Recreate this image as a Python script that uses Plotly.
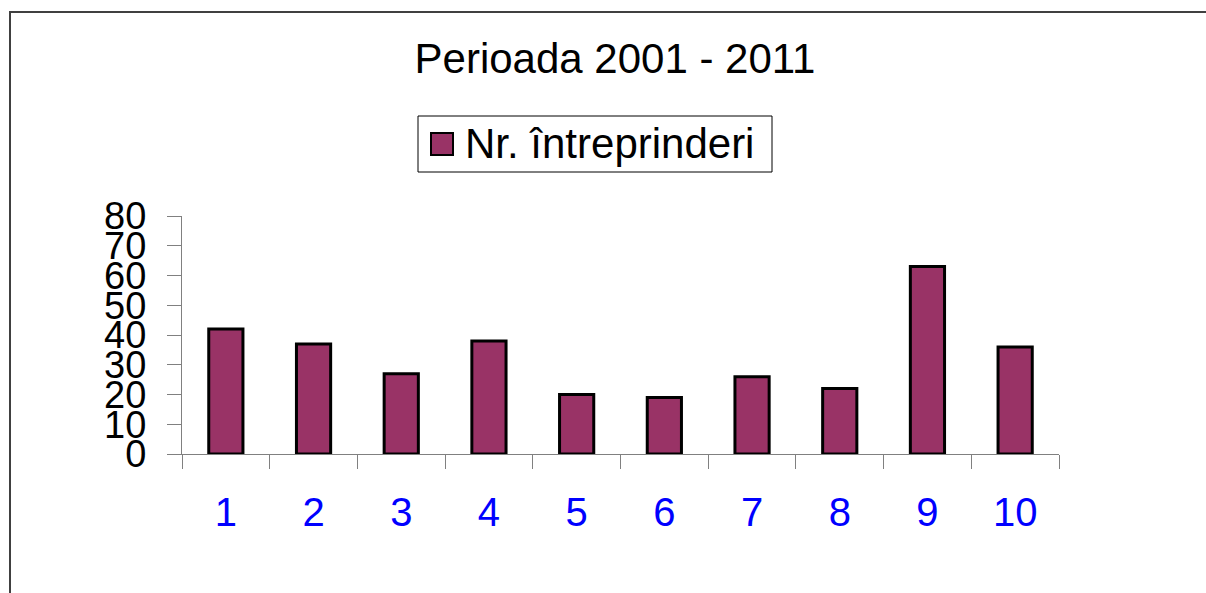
import plotly.graph_objects as go

categories = ["1", "2", "3", "4", "5", "6", "7", "8", "9", "10"]
values = [42, 37, 27, 38, 20, 19, 26, 22, 63, 36]
series_name = "Nr. întreprinderi"
title_text = "Perioada 2001 - 2011"
y_ticks = [0, 10, 20, 30, 40, 50, 60, 70, 80]
bar_color = "#993366"

W, H = 1206, 593
L, R, T, B = 182, 1059, 216, 454          # plot area in screen px
pw, ph = R - L, B - T

def px(x):
    return (x - L) / pw

def py(y):
    return (B - y) / ph

font = "Liberation Sans, Arial, sans-serif"

fig = go.Figure()
fig.add_trace(go.Bar(
    x=categories, y=values, name=series_name,
    marker=dict(color=bar_color, line=dict(color="black", width=3)),
    width=0.39, showlegend=False,
))

border = dict(color="#404040", width=2)
fig.update_layout(
    width=W, height=H,
    margin=dict(l=L, r=W - R, t=T, b=H - B, pad=0),
    paper_bgcolor="white", plot_bgcolor="white",
    title=dict(text=title_text, x=615 / W, xanchor="center",
               y=1 - 58 / H, yanchor="middle",
               font=dict(family=font, size=42, color="black")),
    showlegend=False,
    font=dict(family=font),
    xaxis=dict(type="category", showline=True, linecolor="#808080", linewidth=1,
               ticks="outside", tickson="boundaries", ticklen=14, tickcolor="#808080",
               tickfont=dict(family=font, size=40, color="#0000ff"),
               ticklabelstandoff=23, showgrid=False, zeroline=False),
    yaxis=dict(range=[0, 80], tickvals=y_ticks, showline=True, linecolor="#808080", linewidth=1,
               ticks="outside", ticklen=14, tickcolor="#808080",
               tickfont=dict(family=font, size=38, color="black"),
               ticklabelstandoff=13, showgrid=False, zeroline=False),
    shapes=[
        # outer chart border: left and top edges (others lie outside the image)
        dict(type="line", xref="paper", yref="paper",
             x0=px(10), x1=px(10), y0=py(11), y1=py(700), line=border, layer="below"),
        dict(type="line", xref="paper", yref="paper",
             x0=px(9), x1=px(1300), y0=py(12), y1=py(12), line=border, layer="below"),
        # legend box
        dict(type="rect", xref="paper", yref="paper",
             x0=px(418), x1=px(772), y0=py(172), y1=py(116),
             line=dict(color="black", width=1), fillcolor="white"),
        # legend swatch
        dict(type="rect", xref="paper", yref="paper",
             x0=px(431), x1=px(453), y0=py(155), y1=py(133),
             line=dict(color="black", width=2), fillcolor=bar_color),
    ],
    annotations=[
        dict(text=series_name, xref="paper", yref="paper", x=px(463), y=py(143),
             xanchor="left", yanchor="middle", showarrow=False,
             font=dict(family=font, size=42, color="black")),
    ],
)

fig.write_html("out.html",
               config={"displayModeBar": False},
               post_script="document.body.style.margin='0';document.body.style.overflow='hidden';")
